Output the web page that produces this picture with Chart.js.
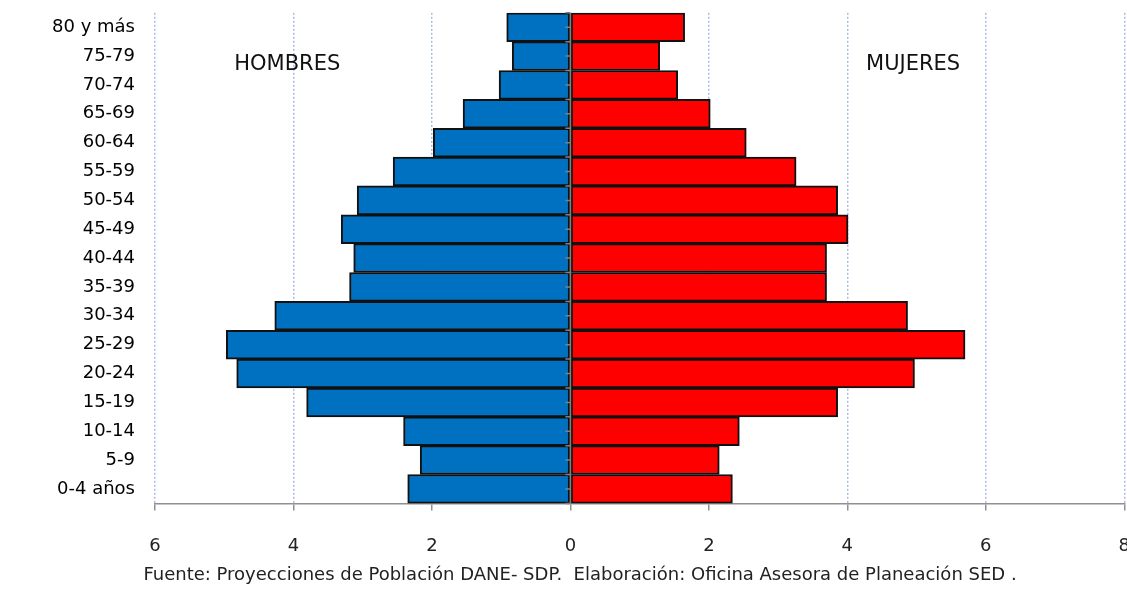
<!DOCTYPE html>
<html>
<head>
<meta charset="utf-8">
<script src="https://cdn.jsdelivr.net/npm/chart.js@4.4.0/dist/chart.umd.min.js"></script>
<style>
  html, body { margin: 0; padding: 0; background: #fff; overflow: hidden; }
  #wrap { width: 1155px; height: 590px; }
</style>
</head>
<body>
<div id="wrap"><canvas id="piramide"></canvas></div>
<script>
// grupos de edad, de arriba hacia abajo
const edades = ['80 y más', '75-79', '70-74', '65-69', '60-64', '55-59', '50-54', '45-49',
    '40-44', '35-39', '30-34', '25-29', '20-24', '15-19', '10-14', '5-9', '0-4 años'];
// porcentaje de población
const hombres = [0.92, 0.84, 1.03, 1.55, 1.98, 2.56, 3.08, 3.31, 3.13, 3.19, 4.27, 4.97, 4.82, 3.81, 2.41, 2.17, 2.35];
const mujeres = [1.65, 1.29, 1.55, 2.02, 2.54, 3.26, 3.86, 4.01, 3.70, 3.70, 4.87, 5.70, 4.97, 3.86, 2.44, 2.15, 2.34];
const xTicks = [-6, -4, -2, 0, 2, 4, 6, 8];
const fuente = 'Fuente: Proyecciones de Población DANE- SDP.  Elaboración: Oficina Asesora de Planeación SED .';

const FONT = '"DejaVu Sans", Verdana, sans-serif';

const extras = {
    id: 'extras',
    afterDatasetsDraw(chart) {
        const {ctx, chartArea, scales} = chart;
        const x0 = scales.x.getPixelForValue(0);
        ctx.save();
        // eje central
        ctx.strokeStyle = '#808080';
        ctx.lineWidth = 1.5;
        ctx.beginPath();
        ctx.moveTo(x0, chartArea.top);
        ctx.lineTo(x0, chartArea.bottom);
        const band = (chartArea.bottom - chartArea.top) / edades.length;
        for (let i = 0; i <= edades.length * 2; i++) {
            const y = chartArea.top + i * band / 2;
            ctx.moveTo(x0 - 5, y);
            ctx.lineTo(x0, y);
        }
        ctx.stroke();
        // rótulos
        ctx.fillStyle = '#111';
        ctx.font = '21px ' + FONT;
        ctx.textAlign = 'center';
        ctx.textBaseline = 'middle';
        const yText = scales.y.getPixelForValue(1.3);
        ctx.fillText('HOMBRES', scales.x.getPixelForValue(-4.09), yText);
        ctx.fillText('MUJERES', scales.x.getPixelForValue(4.95), yText);
        // fuente
        ctx.fillStyle = '#222';
        ctx.font = '18px ' + FONT;
        ctx.fillText(fuente, 580, 575);
        ctx.restore();
    }
};

const ctx = document.getElementById('piramide').getContext('2d');
const chart = new Chart(ctx, {
    type: 'bar',
    data: {
        labels: edades,
        datasets: [{
            label: 'Hombres',
            data: hombres.map(v => -v),
            backgroundColor: '#0070c0',
            borderColor: '#111',
            borderWidth: 2,
            borderSkipped: false,
            barPercentage: 1,
            categoryPercentage: 1
        }, {
            label: 'Mujeres',
            data: mujeres,
            backgroundColor: '#ff0000',
            borderColor: '#111',
            borderWidth: 2,
            borderSkipped: false,
            barPercentage: 1,
            categoryPercentage: 1
        }]
    },
    options: {
        indexAxis: 'y',
        responsive: true,
        maintainAspectRatio: false,
        animation: false,
        layout: {
            padding: { top: 12, left: 0, right: 0, bottom: 8 }
        },
        plugins: {
            legend: { display: false },
            tooltip: { enabled: false }
        },
        scales: {
            x: {
                stacked: true,
                min: -6,
                max: 8,
                afterBuildTicks: scale => {
                    scale.ticks = xTicks.map(v => ({ value: v }));
                },
                ticks: {
                    color: '#222',
                    padding: 25,
                    font: { family: FONT, size: 18 },
                    callback: v => Math.abs(v)
                },
                grid: {
                    color: c => c.tick && c.tick.value === 0 ? 'rgba(0,0,0,0)' : '#a9bde8',
                    lineWidth: 1.5,
                    tickColor: '#909090',
                    tickLength: 7,
                    tickWidth: 1.5
                },
                border: {
                    display: true,
                    color: '#909090',
                    width: 1.5,
                    dash: [2, 2]
                }
            },
            y: {
                stacked: true,
                afterFit: scale => { scale.width = 155; },
                ticks: {
                    color: '#000',
                    padding: 2,
                    font: { family: FONT, size: 18 }
                },
                grid: {
                    display: true,
                    drawOnChartArea: false,
                    tickLength: 18,
                    tickColor: 'rgba(0,0,0,0)'
                },
                border: { display: false }
            }
        }
    },
    plugins: [extras]
});
</script>
</body>
</html>
